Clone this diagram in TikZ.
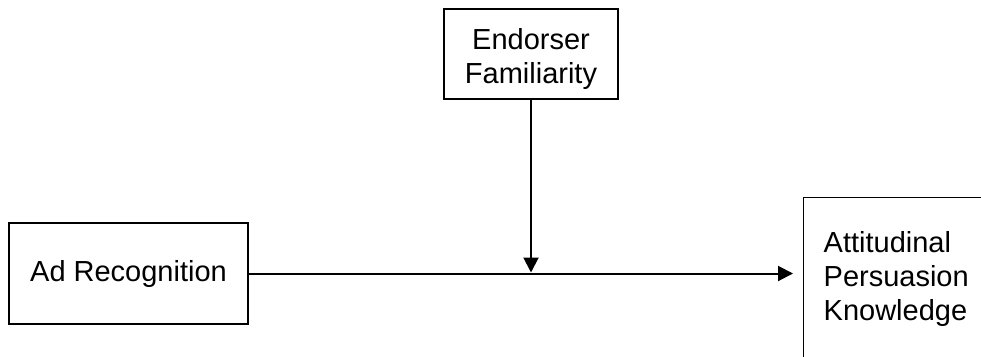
\documentclass[tikz,border=0pt]{standalone}
\usepackage{fontspec}
\setmainfont{Liberation Sans}
\usetikzlibrary{arrows.meta}

\begin{document}
\begin{tikzpicture}[x=1pt,y=-1pt,
  box/.style={draw,line width=1.3pt,inner sep=0pt,font=\fontsize{29.0}{34.0}\selectfont},
  link/.style={line width=2pt,-{Triangle[length=15pt,width=15pt]}}]
\path[use as bounding box] (0,0) rectangle (981.0,356.0);
\clip (0,0) rectangle (981.0,356.0);
% the three variables
\node[box,align=center,minimum width=174pt,minimum height=90pt,text height=64pt,text depth=6pt] (endorser) at (531,54) {Endorser\\Familiarity};
\node[box,minimum width=239pt,minimum height=101pt] (ad) at (128.5,273.5) {Ad Recognition};
\node[box,anchor=north west,align=left,text width=180pt,inner xsep=20pt,inner ysep=34pt,text height=21pt,text depth=74pt] (att) at (803,197) {Attitudinal\\Persuasion\\Knowledge};
% main path and moderator
\coordinate (join) at (endorser.south |- ad.east);
\draw[link,shorten >=10pt] (ad.east) -- (att.west |- ad.east);
\draw[link,shorten >=1pt] (endorser.south) -- (join);
\end{tikzpicture}
\end{document}
